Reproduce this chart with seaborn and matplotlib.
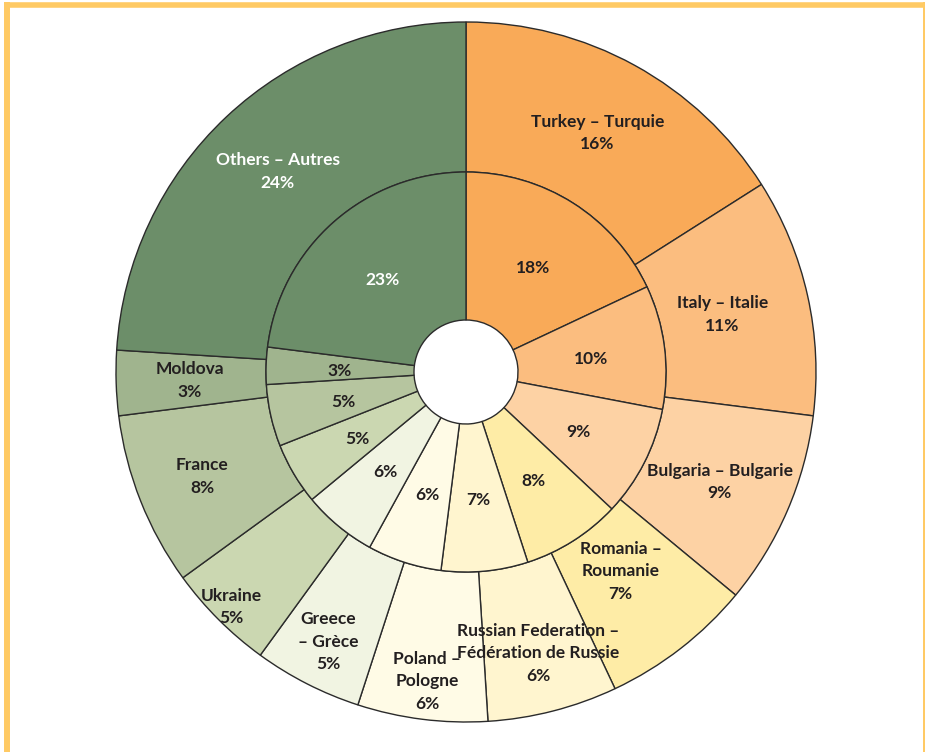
# nested donut: outer = countries, inner = second share
import matplotlib
matplotlib.use("Agg")
import matplotlib.pyplot as plt
from matplotlib.lines import Line2D
import numpy as np
import seaborn as sns

sns.set_theme(style="white")
plt.rcParams['font.family'] = ['Lato', 'DejaVu Sans']

countries = ["Turkey – Turquie", "Italy – Italie", "Bulgaria – Bulgarie",
             "Romania –\nRoumanie", "Russian Federation –\nFédération de Russie",
             "Poland –\nPologne", "Greece\n– Grèce", "Ukraine", "France",
             "Moldova", "Others – Autres"]
outer_pct = [16, 11, 9, 7, 6, 6, 5, 5, 8, 3, 24]
inner_pct = [18, 10, 9, 8, 7, 6, 6, 5, 5, 3, 23]

colors = ["#F9AA58", "#FBBD7F", "#FDD2A4", "#FEECA6", "#FFF5CF", "#FFFBE6",
          "#F1F4E2", "#CBD7B1", "#B6C59F", "#A0B48E", "#6C8E69"]
# label distance from centre (fraction of outer radius), per wedge
label_r = [0.78, 0.75, 0.79, 0.72, 0.83, 0.89, 0.865, 0.95, 0.81, 0.79, 0.785]
white_idx = [10]

ink = "#231F20"
fig = plt.figure(figsize=(9.25, 7.52), dpi=100)
ax = fig.add_axes([116 / 925, 30 / 752, 700 / 925, 700 / 752])

edge = dict(edgecolor="#2b2b2b", linewidth=1)
ax.pie(outer_pct, radius=1, colors=colors, startangle=90, counterclock=False,
       wedgeprops=dict(width=150 / 350, **edge))
ax.pie(inner_pct, radius=200 / 350, colors=colors, startangle=90, counterclock=False,
       wedgeprops=dict(width=148 / 350, **edge))
ax.set_xlim(-1, 1)
ax.set_ylim(-1, 1)
ax.set_aspect("equal")
ax.axis("off")

def mids(vals):
    c = np.cumsum([0] + vals)
    return [(c[i] + c[i + 1]) / 2 / 100 * 2 * np.pi for i in range(len(vals))]

for i, (a, lab, p) in enumerate(zip(mids(outer_pct), countries, outer_pct)):
    x, y = label_r[i] * np.sin(a), label_r[i] * np.cos(a)
    col = "white" if i in white_idx else ink
    ax.text(x, y, f"{lab}\n{p}%", ha="center", va="center", fontsize=12.5,
            fontweight="bold", color=col, linespacing=1.5)

for i, (a, p) in enumerate(zip(mids(inner_pct), inner_pct)):
    r = 126 / 350
    col = "white" if i in white_idx else ink
    ax.text(r * np.sin(a), r * np.cos(a) - 0.008, f"{p}%", ha="center", va="center",
            fontsize=12.5, fontweight="bold", color=col)

# orange frame (open at the bottom)
fc = "#FFCA64"
fig.add_artist(Line2D([7 / 925, 7 / 925], [0, 1 - 2 / 752], color=fc, lw=4.3,
                      transform=fig.transFigure, solid_capstyle="butt"))
fig.add_artist(Line2D([4 / 925, 1], [1 - 4.7 / 752, 1 - 4.7 / 752], color=fc, lw=4.0,
                      transform=fig.transFigure, solid_capstyle="butt"))
fig.add_artist(Line2D([926 / 925, 926 / 925], [0, 1 - 2 / 752], color=fc, lw=4.3,
                      transform=fig.transFigure, solid_capstyle="butt"))

fig.savefig("out.png", dpi=100, facecolor="white")
